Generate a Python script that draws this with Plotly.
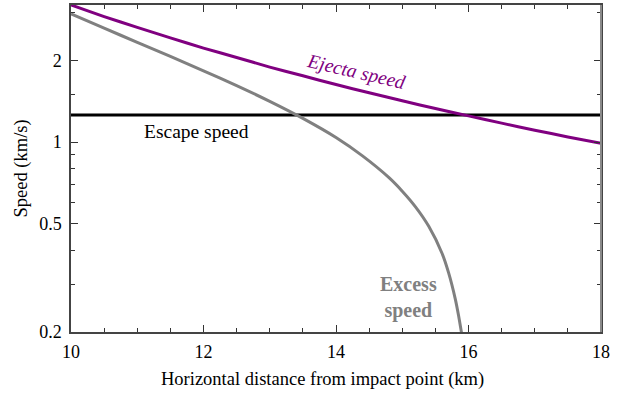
import plotly.graph_objects as go

# Data
distance_km = [10, 10.5, 11, 11.5, 12, 12.5, 13, 13.5, 14, 14.5, 15, 15.5, 16, 16.5, 17, 17.5, 18]
ejecta_speed = [3.20, 2.90, 2.645, 2.42, 2.22, 2.05, 1.89, 1.755, 1.63, 1.52, 1.42, 1.33, 1.25, 1.175, 1.107, 1.045, 0.99]

excess_x = [10, 10.5, 11, 11.5, 12, 12.5, 13, 13.5, 14, 14.4, 14.8, 15.0, 15.2, 15.4, 15.6, 15.7, 15.8, 15.85, 15.9]
excess_speed = [2.97, 2.63, 2.33, 2.07, 1.83, 1.615, 1.413, 1.223, 1.04, 0.89, 0.74, 0.66, 0.578, 0.49, 0.39, 0.33, 0.265, 0.23, 0.195]

escape_x = [10, 18]
escape_speed = [1.26, 1.26]

x_ticks = [10, 12, 14, 16, 18]
y_ticks = [0.2, 0.5, 1, 2]
y_tick_labels = ["0.2", "0.5", "1", "2"]
y_minor = [0.3, 0.4, 0.6, 0.7, 0.8, 0.9, 1.5, 3]

FONT = "'Liberation Serif', 'Times New Roman', serif"

fig = go.Figure()
fig.add_trace(go.Scatter(x=escape_x, y=escape_speed, mode="lines",
                         line=dict(color="black", width=3), showlegend=False))
fig.add_trace(go.Scatter(x=excess_x, y=excess_speed, mode="lines",
                         line=dict(color="#808080", width=3, shape="spline", smoothing=0.6), showlegend=False))
fig.add_trace(go.Scatter(x=distance_km, y=ejecta_speed, mode="lines",
                         line=dict(color="#800080", width=3, shape="spline", smoothing=0.6), showlegend=False))

fig.add_annotation(x=11.9, y=0.039, text="Escape speed", showarrow=False,
                   font=dict(family=FONT, size=19.5, color="black"))
fig.add_annotation(x=14.3, y=0.2605, text="<i>Ejecta speed</i>", showarrow=False,
                   textangle=13, font=dict(family=FONT, size=19.5, color="#800080"))
fig.add_annotation(x=15.09, y=-0.5704, text="<b>Excess<br>speed</b>", showarrow=False,
                   borderpad=0, font=dict(family=FONT, size=20, color="#808080"))
fig.add_annotation(x=0.4736, y=-0.145, xref="paper", yref="paper", yanchor="middle",
                   text="Horizontal distance from impact point (km)", showarrow=False,
                   font=dict(family=FONT, size=18.5, color="black"))
fig.add_annotation(x=-0.0925, y=0.5, xref="paper", yref="paper", xanchor="center", yanchor="middle",
                   text="Speed (km/s)", textangle=-90, showarrow=False,
                   font=dict(family=FONT, size=18.5, color="black"))

fig.add_shape(type="line", xref="paper", yref="paper", x0=1, x1=1, y0=0, y1=1,
              line=dict(color="#8a8a8a", width=2))

fig.update_xaxes(range=[10, 18], tickmode="array", tickvals=x_ticks, automargin=False,
                 ticks="inside", ticklen=7, tickcolor="#333", tickwidth=1,
                 showline=True, linecolor="#444", linewidth=1.5, mirror="ticks",
                 showgrid=False, zeroline=False, ticklabelstandoff=3,
                 minor=dict(dtick=0.5, ticks="inside", ticklen=4, tickcolor="#333", showgrid=False),
                 tickfont=dict(family=FONT, size=18, color="black"))
fig.update_yaxes(type="log", range=[-0.699, 0.505], tickmode="array", automargin=False,
                 tickvals=y_ticks, ticktext=y_tick_labels,
                 ticks="inside", ticklen=7, tickcolor="#333", tickwidth=1,
                 showline=True, linecolor="#444", linewidth=1.5, mirror="ticks",
                 showgrid=False, zeroline=False, ticklabelstandoff=4,
                 minor=dict(tickmode="array", tickvals=y_minor, ticks="inside", ticklen=4,
                            tickcolor="#333", showgrid=False),
                 tickfont=dict(family=FONT, size=18, color="black"))

fig.update_layout(width=623, height=399, margin=dict(l=71, r=22, t=5, b=67),
                  plot_bgcolor="white", paper_bgcolor="white",
                  font=dict(family=FONT, size=18, color="black"))

fig.write_html("out.html", config={"displayModeBar": False},
               post_script="document.body.style.margin='0';")
